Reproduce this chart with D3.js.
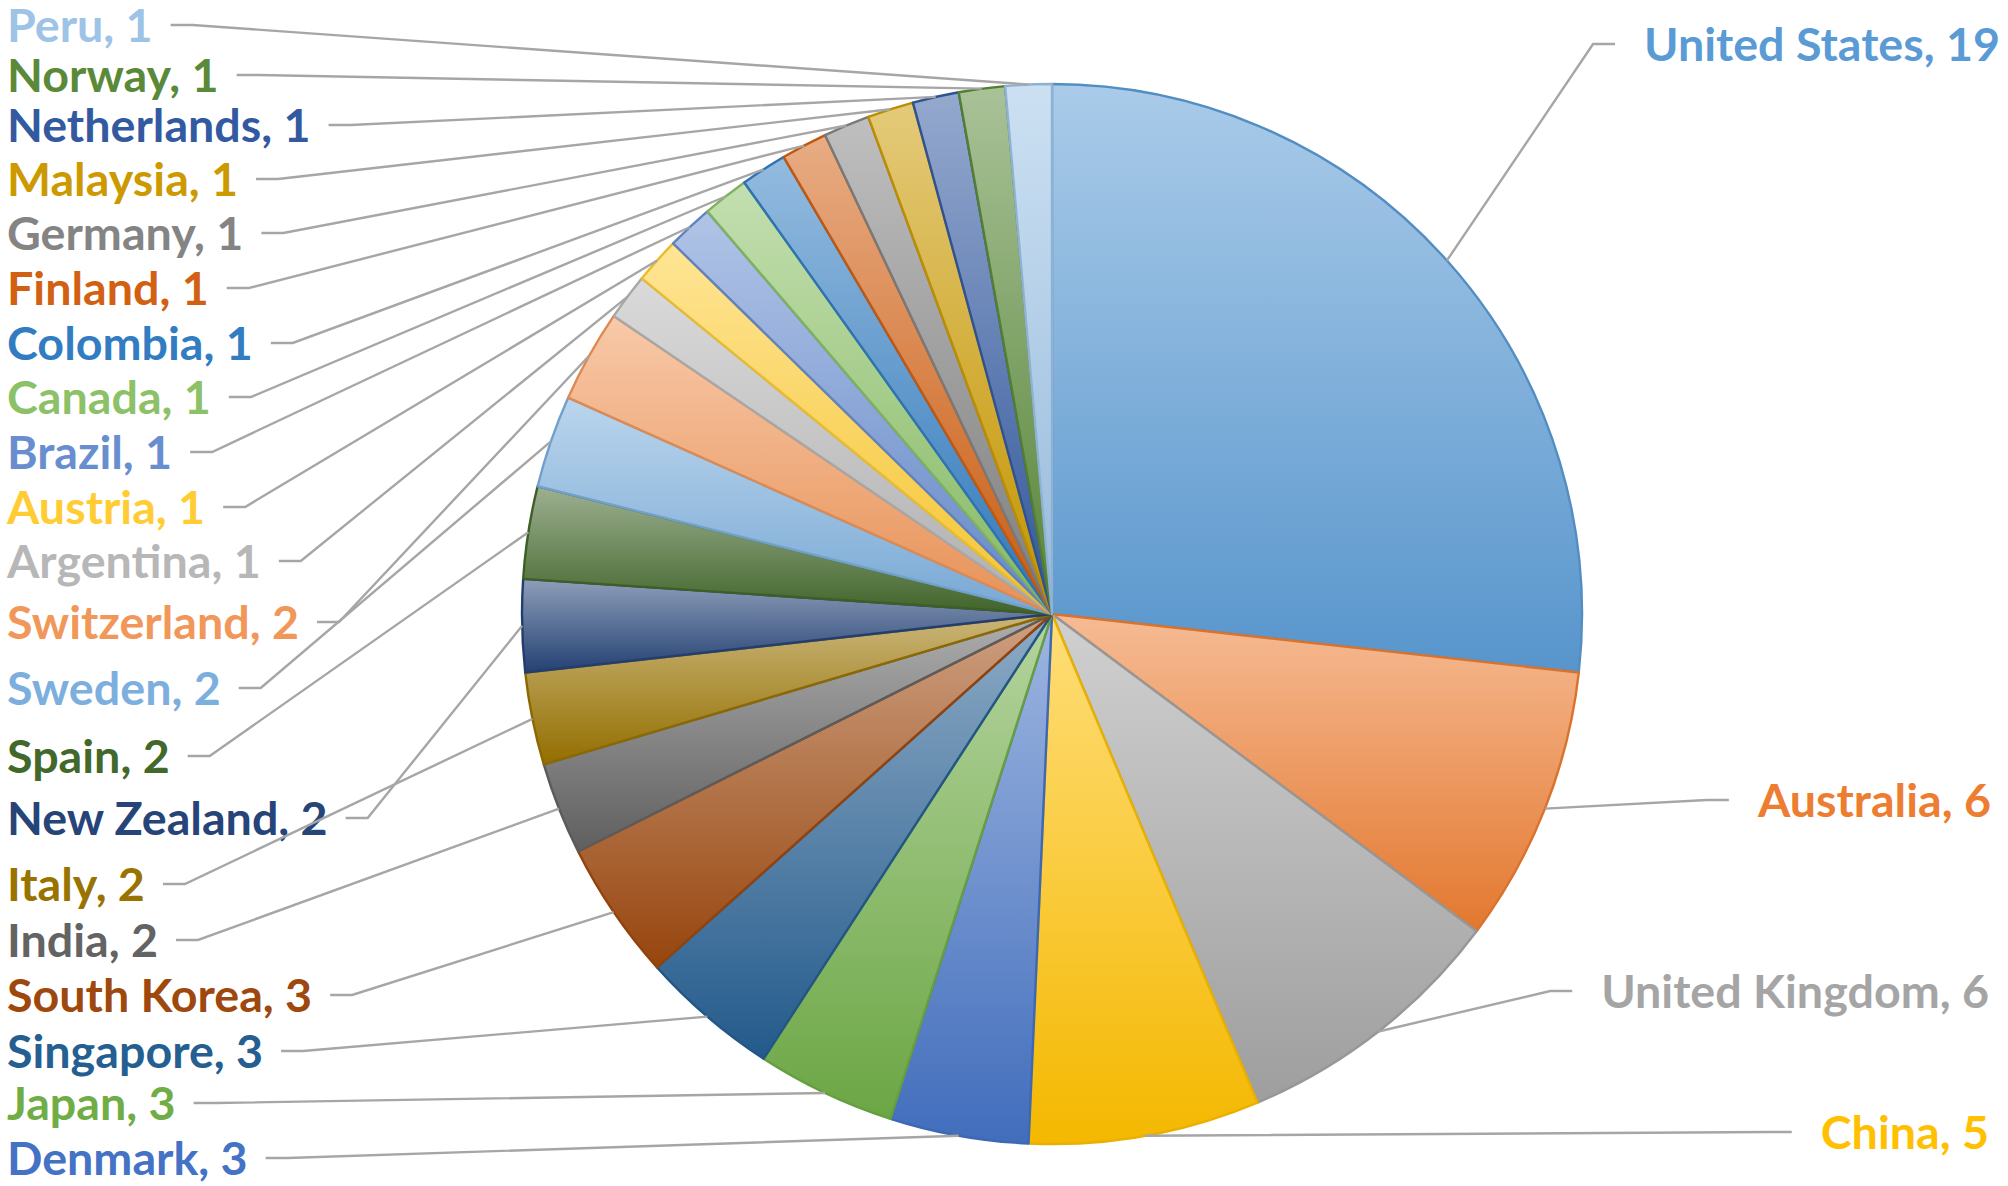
<!DOCTYPE html>
<html><head><meta charset="utf-8">
<script src="https://cdn.jsdelivr.net/npm/d3@7"></script>
<style>html,body{margin:0;padding:0;background:#fff;} svg{display:block}</style>
</head><body>
<svg id="chart" width="2008" height="1186"></svg>
<script>
// ---------- data ----------
const countries = ["United States","Australia","United Kingdom","China","Denmark","Japan","Singapore","South Korea","India","Italy","New Zealand","Spain","Sweden","Switzerland","Argentina","Austria","Brazil","Canada","Colombia","Finland","Germany","Malaysia","Netherlands","Norway","Peru"];
const counts = [19,6,6,5,3,3,3,3,2,2,2,2,2,2,1,1,1,1,1,1,1,1,1,1,1];
const sliceColors = ["#5B9BD5","#ED7D31","#A5A5A5","#FFC000","#4472C4","#70AD47","#255E91","#9E480E","#636363","#997300","#264478","#43682B","#7CAFDD","#F1975A","#B7B7B7","#FFCD33","#698ED0","#8CC168","#327DC2","#D26012","#848484","#CC9A00","#335AA1","#5A8A39","#9DC3E6"];

// ---------- label layout (positions only) ----------
const labelSide = ["R","R","R","R","L","L","L","L","L","L","L","L","L","L","L","L","L","L","L","L","L","L","L","L","L"];
const labelY = [44,800,991,1132,1158,1103,1051,995,940,884,818,756,688,622,561,507,452,397,343,288,233,179,125,75,25];
const rightEndX = [2000,1991,1989,1989];

const W = 2008, H = 1186;
const cx = 1052, cy = 614, R = 530;
const svg = d3.select("#chart");
const data = countries.map((c,i)=>({name:c, value:counts[i], color:sliceColors[i], i}));

const pie = d3.pie().sort(null).value(d=>d.value).startAngle(0).endAngle(2*Math.PI);
const arcs = pie(data);
const arc = d3.arc().innerRadius(0).outerRadius(R);

// gradients
const defs = svg.append("defs");
arcs.forEach((a,i)=>{
  const base = d3.rgb(a.data.color);
  const g = defs.append("linearGradient").attr("id","grad"+i)
    .attr("x1",0).attr("y1",0).attr("x2",0).attr("y2",1);
  g.append("stop").attr("offset","0%").attr("stop-color", d3.interpolateRgb(base, "#ffffff")(0.48));
  g.append("stop").attr("offset","100%").attr("stop-color", base.darker(0.12).formatHex());
});

const gPie = svg.append("g").attr("transform",`translate(${cx},${cy})`);
gPie.selectAll("path.slice").data(arcs).join("path")
  .attr("class","slice")
  .attr("d", arc)
  .attr("fill",(d,i)=>`url(#grad${i})`)
  .attr("stroke",d=>d3.rgb(d.data.color).darker(0.25).formatHex())
  .attr("stroke-width",2.4)
  .attr("stroke-linejoin","round");

// labels
const gLab = svg.append("g");
const fontFamily = "Lato, 'Open Sans', sans-serif";
const labels = gLab.selectAll("text.lab").data(arcs).join("text")
  .attr("class","lab")
  .attr("font-family", fontFamily)
  .attr("font-weight", 700)
  .attr("font-size", 44)
  .attr("fill", d=>d.data.color)
  .text(d=>`${d.data.name}, ${d.data.value}`);

// fit font size so label widths match the reference text width
const usNode = labels.nodes()[0];
const baseLen = usNode.getComputedTextLength();
const fs = 44 * 356 / baseLen;
labels.attr("font-size", fs);

const leaderLine = d3.line();
const leaders = [];
labels.each(function(d,i){
  const len = this.getComputedTextLength();
  const y = labelY[i];
  const sel = d3.select(this).attr("y", y + fs*0.36);
  const mid = (d.startAngle + d.endAngle)/2;
  const px = cx + R*Math.sin(mid), py = cy - R*Math.cos(mid);
  if (labelSide[i] === "R") {
    const endX = rightEndX[i];
    sel.attr("x", endX).attr("text-anchor","end");
    const start = endX - len;
    const p0 = [start - 29, y], p1 = [start - 29 - 22, y];
    leaders.push([p0,p1,[px,py]]);
  } else {
    const x0 = 7;
    sel.attr("x", x0).attr("text-anchor","start");
    const p0 = [x0 + len + 18, y], p1 = [x0 + len + 18 + 22, y];
    leaders.push([p0,p1,[px,py]]);
  }
});

const gLead = svg.append("g");
gLead.selectAll("path").data(leaders).join("path")
  .attr("d", d=>leaderLine(d))
  .attr("fill","none")
  .attr("stroke","#A6A6A6")
  .attr("stroke-width",2.4)
  .attr("stroke-linejoin","miter");
</script>
</body></html>
